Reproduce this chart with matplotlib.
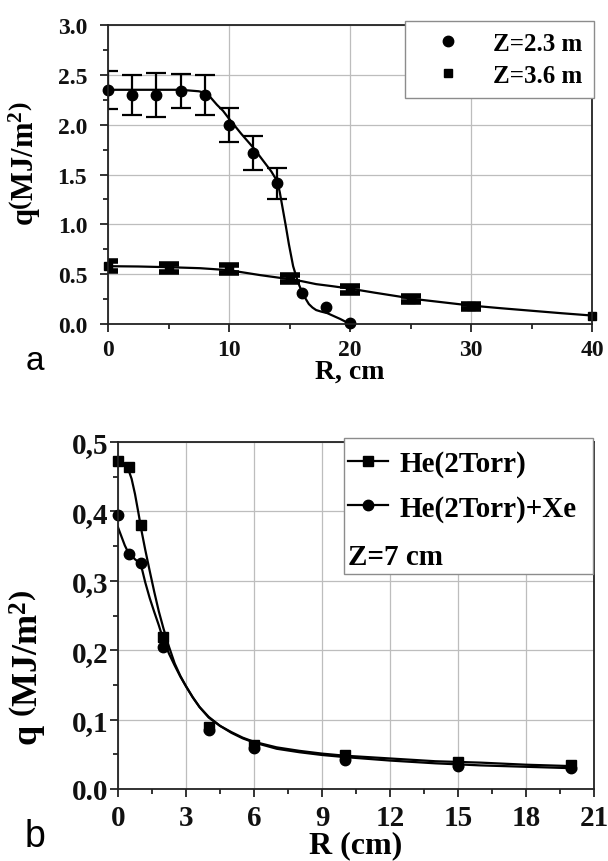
import numpy as np
import matplotlib
matplotlib.use("Agg")
import matplotlib.pyplot as plt
from matplotlib.lines import Line2D
from matplotlib.patches import Rectangle

# ---- data ----
# panel a: markers
r_z23 = [0, 2, 4, 6, 8, 10, 12, 14, 16, 18, 20]
q_z23 = [2.35, 2.30, 2.30, 2.34, 2.30, 2.00, 1.72, 1.41, 0.31, 0.17, 0.01]
e_z23 = [0.19, 0.20, 0.22, 0.17, 0.20, 0.17, 0.17, 0.16, 0, 0, 0]
r_z36 = [0, 5, 10, 15, 20, 25, 30, 40]
q_z36 = [0.58, 0.56, 0.55, 0.46, 0.35, 0.25, 0.18, 0.08]
e_z36 = [0.05, 0.04, 0.04, 0.035, 0.035, 0.03, 0.025, 0]
# panel a: fitted curves
fit_r_z23 = [0, 2, 4, 6, 7, 7.5, 8, 8.5, 9, 9.5, 10, 10.5, 11, 11.5, 12, 12.5, 13, 13.5,
             14, 14.2, 14.45, 14.7, 14.95, 15.3, 15.7, 16.1, 16.35, 16.6, 16.9, 17.2,
             17.6, 18.1, 19.2, 20]
fit_q_z23 = [2.35, 2.35, 2.35, 2.35, 2.34, 2.335, 2.32, 2.27, 2.20, 2.14, 2.06, 1.985,
             1.91, 1.84, 1.77, 1.69, 1.61, 1.53, 1.43, 1.32, 1.15, 0.98, 0.80, 0.58,
             0.42, 0.30, 0.25, 0.20, 0.165, 0.14, 0.125, 0.11, 0.05, 0.0]
fit_r_z36 = [0, 2.5, 5, 7.6, 10, 11.3, 12.6, 13.8, 15, 16, 17.2, 18.5, 20, 22, 24.1, 25,
             27.5, 30, 32.5, 35, 37.5, 40]
fit_q_z36 = [0.58, 0.577, 0.57, 0.56, 0.54, 0.515, 0.49, 0.47, 0.45, 0.43, 0.40, 0.38,
             0.355, 0.315, 0.275, 0.255, 0.22, 0.185, 0.158, 0.133, 0.108, 0.085]

# panel b: markers
r_b = [0, 0.5, 1, 2, 4, 6, 10, 15, 20]
q_he = [0.472, 0.464, 0.380, 0.219, 0.090, 0.063, 0.049, 0.039, 0.034]
q_hexe = [0.395, 0.339, 0.325, 0.204, 0.085, 0.059, 0.042, 0.033, 0.030]
# panel b: fitted curves
fit_r_b = [0, 0.15, 0.3, 0.45, 0.6, 0.75, 0.9, 1.05, 1.2, 1.4, 1.6, 1.8, 2.0, 2.25,
           2.5, 2.75, 3.0, 3.3, 3.6, 4.0, 4.5, 5, 5.5, 6, 7, 8, 9, 10, 12, 14, 16, 18, 20]
fit_q_he = [0.472, 0.471, 0.468, 0.461, 0.447, 0.425, 0.398, 0.370, 0.345, 0.314,
            0.284, 0.256, 0.232, 0.205, 0.181, 0.163, 0.148, 0.132, 0.118, 0.104,
            0.091, 0.082, 0.074, 0.068, 0.060, 0.055, 0.051, 0.048, 0.044, 0.040,
            0.038, 0.035, 0.033]
fit_q_hexe = [0.377, 0.364, 0.351, 0.341, 0.336, 0.331, 0.327, 0.318, 0.298, 0.275,
              0.255, 0.236, 0.215, 0.195, 0.178, 0.162, 0.148, 0.132, 0.118, 0.103,
              0.091, 0.081, 0.073, 0.067, 0.058, 0.053, 0.049, 0.046, 0.041, 0.037,
              0.034, 0.032, 0.030]

yticks_a = [0.0, 0.5, 1.0, 1.5, 2.0, 2.5, 3.0]
ylabels_a = ["0.0", "0.5", "1.0", "1.5", "2.0", "2.5", "3.0"]
xticks_a = [0, 10, 20, 30, 40]
yticks_b = [0.0, 0.1, 0.2, 0.3, 0.4, 0.5]
ylabels_b = ["0.0", "0,1", "0,2", "0,3", "0,4", "0,5"]
xticks_b = [0, 3, 6, 9, 12, 15, 18, 21]

plt.rcParams["font.family"] = ["Liberation Serif", "DejaVu Serif"]
plt.rcParams["font.weight"] = "bold"
plt.rcParams["axes.labelweight"] = "bold"
plt.rcParams["mathtext.fontset"] = "custom"
plt.rcParams["mathtext.rm"] = "Liberation Serif:bold"
plt.rcParams["mathtext.it"] = "Liberation Serif:bold"
plt.rcParams["mathtext.bf"] = "Liberation Serif:bold"

W, H = 608, 862
fig = plt.figure(figsize=(W / 100, H / 100), dpi=100)


def px_axes(left, top, right, bottom):
    return fig.add_axes([left / W, 1 - bottom / H, (right - left) / W, (bottom - top) / H])


def style(ax, fs):
    for s in ax.spines.values():
        s.set_color("#222222")
        s.set_linewidth(1.3)
    ax.grid(True, which="major", color="#bdbdbd", lw=0.9)
    ax.set_axisbelow(True)
    ax.tick_params(which="both", direction="out", width=1.2, labelsize=fs, colors="#111111")
    ax.tick_params(which="major", length=6)
    ax.tick_params(which="minor", length=3.5)


# ================= panel a =================
ax1 = px_axes(108, 26, 592, 325)
style(ax1, 17)

e23 = np.array(e_z23)
m = e23 > 0
ax1.errorbar(np.array(r_z23)[m], np.array(q_z23)[m], yerr=e23[m], fmt="none",
             ecolor="k", elinewidth=1.6, capsize=7.2, capthick=1.6)
e36 = np.array(e_z36)
m = e36 > 0
ax1.errorbar(np.array(r_z36)[m], np.array(q_z36)[m], yerr=e36[m], fmt="none",
             ecolor="k", elinewidth=1.6, capsize=7.2, capthick=4)
ax1.plot(fit_r_z23, fit_q_z23, color="k", lw=1.6)
ax1.plot(fit_r_z36, fit_q_z36, color="k", lw=1.6)
ax1.plot(r_z23, q_z23, "o", color="k", ms=7.5, ls="none", clip_on=False)
ax1.plot(r_z36, q_z36, "s", color="k", ms=6, ls="none", clip_on=False)

ax1.set_xlim(0, 40)
ax1.set_ylim(0, 3.0)
ax1.set_xticks(xticks_a)
ax1.set_xticks([5, 15, 25, 35], minor=True)
ax1.set_yticks(yticks_a, ylabels_a)
ax1.set_yticks([0.25, 0.75, 1.25, 1.75, 2.25, 2.75], minor=True)
ax1.tick_params(axis="y", pad=9)
ax1.tick_params(axis="x", pad=5)

ax1.set_xlabel("R, cm", fontsize=20)
ax1.xaxis.set_label_coords(0.5, -0.115)
ax1.set_ylabel(r"q$\left(\mathrm{MJ/m^{2}}\right)$", fontsize=22)
ax1.yaxis.set_label_coords(-0.135, 0.54)

h1 = [Line2D([], [], ls="none", marker="o", color="k", ms=7.5),
      Line2D([], [], ls="none", marker="s", color="k", ms=6)]
leg = ax1.legend(h1, ["Z=2.3 m", "Z=3.6 m"], loc="upper right",
                 bbox_to_anchor=(1.004, 1.015), borderaxespad=0, fontsize=18,
                 handlelength=2.6, handletextpad=0.5, borderpad=0.45,
                 labelspacing=0.35, fancybox=False, framealpha=1)
leg.get_frame().set_edgecolor("#8c8c8c")
leg.get_frame().set_linewidth(1.0)

fig.text(35 / W, 1 - 362 / H, "a", family="Liberation Sans", fontweight="normal",
         fontsize=24, ha="center", va="center")

# ================= panel b =================
ax2 = px_axes(118, 443, 594, 790)
style(ax2, 21)

ax2.plot(fit_r_b, fit_q_he, color="k", lw=1.6)
ax2.plot(fit_r_b, fit_q_hexe, color="k", lw=1.6)
ax2.plot(r_b, q_he, "s", color="k", ms=7, ls="none", clip_on=False)
ax2.plot(r_b, q_hexe, "o", color="k", ms=7.5, ls="none", clip_on=False)

ax2.set_xlim(0, 21)
ax2.set_ylim(0, 0.5)
ax2.set_xticks(xticks_b)
ax2.set_xticks(np.arange(1.5, 21, 3), minor=True)
ax2.set_yticks(yticks_b, ylabels_b)
ax2.set_yticks([0.05, 0.15, 0.25, 0.35, 0.45], minor=True)
ax2.tick_params(axis="y", pad=1)
ax2.tick_params(axis="x", pad=5)

ax2.set_xlabel("R (cm)", fontsize=23)
ax2.xaxis.set_label_coords(0.5, -0.118)
ax2.set_ylabel(r"q $\left(\mathrm{MJ/m^{2}}\right)$", fontsize=26)
ax2.yaxis.set_label_coords(-0.145, 0.352)

# legend box drawn by hand so the extra "Z=7 cm" line sits flush left
ax2.add_patch(Rectangle((0.475, 0.62), 0.523, 0.3915, transform=ax2.transAxes,
                        facecolor="white", edgecolor="#8c8c8c", lw=1.0,
                        clip_on=False, zorder=5))
h2 = [Line2D([], [], color="k", lw=1.6, marker="s", ms=7),
      Line2D([], [], color="k", lw=1.6, marker="o", ms=7.5)]
leg2 = ax2.legend(h2, ["He(2Torr)", "He(2Torr)+Xe"], loc="upper left",
                  bbox_to_anchor=(0.475, 0.99), borderaxespad=0, fontsize=21,
                  handlelength=1.35, handletextpad=0.4, borderpad=0.15,
                  labelspacing=0.6, frameon=False)
leg2.set_zorder(6)
ax2.text(0.483, 0.669, "Z=7 cm", transform=ax2.transAxes, fontsize=21,
         ha="left", va="center", zorder=7)

fig.text(35 / W, 1 - 837 / H, "b", family="Liberation Sans", fontweight="normal",
         fontsize=27, ha="center", va="center")

fig.savefig("out.png", dpi=100)
plt.close(fig)
